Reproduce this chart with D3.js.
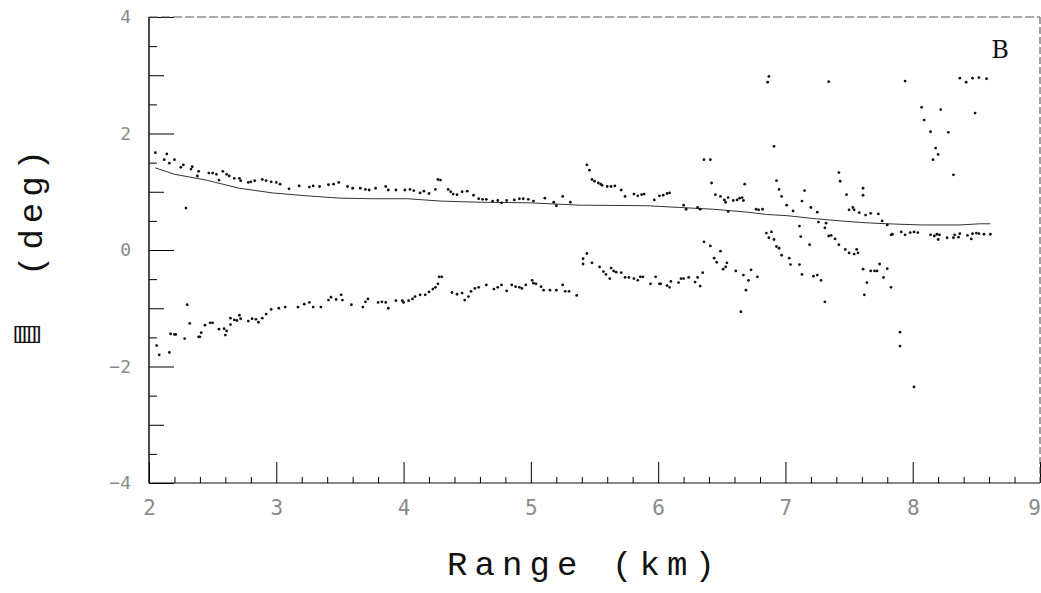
<!DOCTYPE html>
<html>
<head>
<meta charset="utf-8">
<script src="https://cdn.jsdelivr.net/npm/d3@7"></script>
<style>
body { margin: 0; background: #fff; }
.tick text { fill: #8a8a8a; font-family: "DejaVu Sans Mono", monospace; }
</style>
</head>
<body>
<script>

// Tick values
var xMajor = [2, 3, 4, 5, 6, 7, 8, 9];
var yMajor = [-4, -2, 0, 2, 4];

// Fitted curve (solid line)
var lineX = [2.05, 2.20, 2.45, 2.71, 2.97, 3.24, 3.50, 3.76, 4.03, 4.29, 4.60, 4.99, 5.38, 5.91, 6.17, 6.43, 6.70, 6.85, 7.01, 7.22, 7.43, 7.61, 7.80, 8.06, 8.37, 8.53, 8.61];
var lineY = [1.41, 1.30, 1.20, 1.06, 0.98, 0.93, 0.89, 0.88, 0.88, 0.84, 0.82, 0.81, 0.77, 0.76, 0.73, 0.70, 0.65, 0.61, 0.59, 0.54, 0.50, 0.47, 0.45, 0.43, 0.43, 0.45, 0.45];

// Measured points, by group
var bandUpper = [[2.05,1.67],[2.12,1.55],[2.14,1.65],[2.16,1.49],[2.20,1.55],[2.25,1.42],[2.27,1.46],[2.33,1.39],[2.34,1.43],[2.38,1.27],[2.39,1.35],[2.47,1.32],[2.50,1.32],[2.53,1.30],[2.55,1.20],[2.58,1.35],[2.61,1.30],[2.63,1.27],[2.67,1.23],[2.71,1.23],[2.72,1.19],[2.78,1.16],[2.80,1.17],[2.83,1.19],[2.89,1.21],[2.92,1.19],[2.96,1.17],[3.00,1.16],[3.03,1.13],[3.10,1.05],[3.18,1.10],[3.26,1.08],[3.29,1.10],[3.34,1.09],[3.41,1.12],[3.45,1.13],[3.49,1.16],[3.56,1.09],[3.60,1.06],[3.66,1.06],[3.70,1.04],[3.73,1.03],[3.78,1.06],[3.86,1.09],[3.88,1.03],[3.94,1.03],[4.01,1.03],[4.05,1.04],[4.08,1.02],[4.13,0.98],[4.16,1.01],[4.20,0.97],[4.25,1.04],[4.27,1.21],[4.29,1.20],[4.35,1.04],[4.37,1.00],[4.39,0.96],[4.42,0.95],[4.46,1.00],[4.50,1.01],[4.55,0.94],[4.59,0.88],[4.62,0.87],[4.65,0.87],[4.70,0.84],[4.74,0.85],[4.77,0.81],[4.81,0.85],[4.87,0.86],[4.91,0.88],[4.94,0.88],[4.98,0.87],[5.02,0.84],[5.11,0.89],[5.18,0.82],[5.20,0.76],[5.25,0.92],[5.31,0.82],[2.29,0.72]];

var bandLower = [[2.06,-1.64],[2.08,-1.80],[2.16,-1.76],[2.17,-1.44],[2.20,-1.45],[2.21,-1.45],[2.28,-1.52],[2.30,-0.94],[2.32,-1.26],[2.39,-1.49],[2.40,-1.49],[2.41,-1.42],[2.44,-1.29],[2.48,-1.25],[2.50,-1.25],[2.55,-1.36],[2.59,-1.35],[2.60,-1.46],[2.61,-1.39],[2.64,-1.17],[2.64,-1.28],[2.67,-1.20],[2.69,-1.21],[2.71,-1.12],[2.72,-1.18],[2.78,-1.22],[2.81,-1.18],[2.84,-1.19],[2.86,-1.24],[2.89,-1.17],[2.92,-1.10],[2.96,-1.02],[3.02,-1.00],[3.07,-0.98],[3.17,-0.98],[3.22,-0.93],[3.26,-0.90],[3.29,-0.98],[3.35,-0.98],[3.41,-0.86],[3.43,-0.81],[3.47,-0.85],[3.51,-0.77],[3.52,-0.86],[3.59,-0.94],[3.68,-0.98],[3.70,-0.89],[3.72,-0.84],[3.80,-0.90],[3.83,-0.89],[3.86,-0.90],[3.88,-1.00],[3.94,-0.87],[3.99,-0.87],[4.00,-0.90],[4.04,-0.87],[4.07,-0.84],[4.09,-0.80],[4.13,-0.77],[4.17,-0.77],[4.20,-0.72],[4.23,-0.67],[4.25,-0.64],[4.27,-0.58],[4.28,-0.46],[4.30,-0.46],[4.38,-0.73],[4.42,-0.76],[4.46,-0.74],[4.48,-0.86],[4.51,-0.80],[4.53,-0.71],[4.56,-0.66],[4.59,-0.64],[4.65,-0.60],[4.71,-0.67],[4.74,-0.64],[4.77,-0.60],[4.81,-0.70],[4.85,-0.60],[4.88,-0.63],[4.91,-0.64],[4.93,-0.66],[4.96,-0.60],[5.01,-0.52],[5.02,-0.57],[5.04,-0.58],[5.08,-0.63],[5.10,-0.69],[5.15,-0.69],[5.20,-0.69],[5.25,-0.60],[5.27,-0.71],[5.30,-0.71],[5.36,-0.78]];

var midUpper = [[5.44,1.46],[5.46,1.37],[5.48,1.21],[5.50,1.18],[5.53,1.15],[5.55,1.13],[5.56,1.11],[5.60,1.09],[5.63,1.09],[5.66,1.10],[5.71,1.03],[5.74,0.92],[5.81,0.96],[5.84,0.93],[5.87,0.95],[5.89,0.96],[5.97,0.86],[6.01,0.93],[6.04,0.94],[6.07,0.97],[6.09,0.98]];

var midLower = [[5.41,-0.15],[5.41,-0.24],[5.44,-0.06],[5.48,-0.22],[5.54,-0.29],[5.57,-0.37],[5.59,-0.42],[5.62,-0.49],[5.63,-0.31],[5.65,-0.36],[5.67,-0.38],[5.71,-0.39],[5.74,-0.47],[5.77,-0.47],[5.81,-0.49],[5.84,-0.52],[5.86,-0.46],[5.88,-0.46],[5.94,-0.58],[5.98,-0.46],[6.01,-0.58],[6.02,-0.58],[6.07,-0.61],[6.09,-0.64],[6.10,-0.54],[6.16,-0.56],[6.18,-0.49],[6.20,-0.49],[6.24,-0.47],[6.29,-0.55],[6.31,-0.47],[6.33,-0.62],[6.35,-0.39]];

var arcsUpper = [[6.20,0.77],[6.22,0.70],[6.31,0.73],[6.33,0.70],[6.36,1.55],[6.41,1.55],[6.42,1.15],[6.45,0.95],[6.49,0.92],[6.52,0.86],[6.53,0.82],[6.55,0.90],[6.59,0.85],[6.62,0.86],[6.64,0.89],[6.66,0.90],[6.67,0.85],[6.68,1.13],[6.77,0.70],[6.79,0.69],[6.82,0.70],[6.55,0.66],[6.86,2.88],[6.87,2.98],[6.91,1.78],[6.93,1.19],[6.95,1.04],[6.97,0.92],[7.01,0.77],[7.06,0.67],[7.13,0.84],[7.15,1.02],[7.20,0.73],[7.25,0.65],[7.26,0.48],[7.11,0.41],[7.12,0.23],[7.19,0.09],[7.34,2.89],[7.42,1.33],[7.43,1.18],[7.48,0.95],[7.50,0.69],[7.53,0.73],[7.54,0.69],[7.58,0.64],[7.61,1.06],[7.61,0.94],[7.63,0.60],[7.67,0.63],[7.73,0.62],[7.76,0.50],[7.80,0.43],[7.83,0.26]];

var arcsLower = [[6.36,0.14],[6.41,0.07],[6.44,-0.14],[6.46,-0.21],[6.49,-0.02],[6.51,-0.33],[6.53,-0.29],[6.54,-0.22],[6.61,-0.36],[6.67,-0.43],[6.71,-0.52],[6.73,-0.34],[6.78,-0.46],[6.69,-0.69],[6.65,-1.06],[6.85,0.29],[6.89,0.31],[6.87,0.21],[6.91,0.18],[6.93,0.06],[6.95,0.03],[6.97,-0.09],[7.03,-0.14],[7.04,-0.25],[7.11,-0.25],[7.13,-0.42],[7.22,-0.45],[7.25,-0.43],[7.28,-0.52],[7.31,-0.89],[7.31,0.38],[7.32,0.46],[7.34,0.24],[7.36,0.25],[7.39,0.19],[7.42,0.09],[7.47,0.01],[7.50,-0.05],[7.54,-0.07],[7.56,0.01],[7.57,-0.05],[7.61,-0.33],[7.64,-0.56],[7.62,-0.77],[7.67,-0.36],[7.70,-0.36],[7.72,-0.36],[7.74,-0.24],[7.77,-0.47],[7.80,-0.32],[7.83,-0.64],[7.90,-1.41],[7.90,-1.65],[8.01,-2.35]];

var tailBand = [[7.84,0.27],[7.91,0.31],[7.94,0.26],[7.98,0.30],[8.01,0.31],[8.04,0.30],[8.14,0.26],[8.17,0.24],[8.19,0.27],[8.20,0.18],[8.21,0.26],[8.27,0.21],[8.32,0.21],[8.33,0.26],[8.36,0.22],[8.37,0.28],[8.43,0.25],[8.46,0.19],[8.47,0.28],[8.50,0.29],[8.52,0.28],[8.56,0.27],[8.61,0.27]];

var tailUpper = [[7.94,2.90],[8.37,2.95],[8.42,2.88],[8.47,2.95],[8.52,2.96],[8.58,2.94],[8.07,2.45],[8.22,2.41],[8.49,2.35],[8.09,2.23],[8.14,2.03],[8.28,2.02],[8.18,1.75],[8.20,1.64],[8.16,1.55],[8.32,1.29]];

var allPoints = [].concat(bandUpper, bandLower, midUpper, midLower, arcsUpper, arcsLower, tailBand, tailUpper);

// Layout
var margin = {top: 17, left: 149},
    width = 891,
    height = 466;

var svg = d3.select("body").append("svg")
            .attr("width", 1041)
            .attr("height", 593);

var g = svg.append("g")
           .attr("transform", "translate(" + margin.left + "," + margin.top + ")");

var x = d3.scaleLinear().domain([2, 9]).range([0, width]);
var y = d3.scaleLinear().domain([-4, 4]).range([height, 0]);

// minor ticks
var xMinor = d3.range(2, 9.001, 0.2).filter(function (v) { return Math.abs(v - Math.round(v)) > 0.01; });
var yHalf = d3.range(-4, 4.001, 0.5).filter(function (v) { return Math.abs(v / 2 - Math.round(v / 2)) > 0.01; });

g.append("g")
 .attr("transform", "translate(0," + height + ")")
 .call(d3.axisBottom(x).tickValues(xMinor).tickSize(-6).tickSizeOuter(0).tickFormat(""))
 .call(function (s) { s.select(".domain").remove(); });

g.append("g")
 .attr("class", "x axis")
 .attr("transform", "translate(0," + height + ")")
 .call(d3.axisBottom(x).tickValues(xMajor).tickSize(-21).tickSizeOuter(0).tickPadding(17).tickFormat(d3.format("d")))
 .call(function (s) {
     s.select(".domain").remove();
     s.selectAll("text").attr("font-size", 21)
      .attr("dx", function (d) { return d === 9 ? -6 : 0; });
 });

g.append("g")
 .call(d3.axisLeft(y).tickValues(yHalf).tickSizeOuter(0).tickFormat("")
         .tickSize(0))
 .call(function (s) {
     s.select(".domain").remove();
     s.selectAll(".tick line").attr("x2", function (d) { return Number.isInteger(d) ? 15 : 8; });
 });

g.append("g")
 .attr("class", "y axis")
 .call(d3.axisLeft(y).tickValues(yMajor).tickSize(-25).tickSizeOuter(0).tickPadding(18).tickFormat(d3.format("d")))
 .call(function (s) {
     s.select(".domain").remove();
     s.selectAll("text").attr("font-size", 18);
 });

// frame
g.append("line").attr("x1", 0).attr("x2", 0).attr("y1", 0).attr("y2", height)
 .attr("stroke", "#111").attr("stroke-width", 1.5);
g.append("line").attr("x1", 0).attr("x2", width).attr("y1", height).attr("y2", height)
 .attr("stroke", "#111").attr("stroke-width", 1.2);
g.append("line").attr("x1", 0).attr("x2", width).attr("y1", 0).attr("y2", 0)
 .attr("stroke", "#555").attr("stroke-width", 1).attr("stroke-dasharray", "9,3");
g.append("line").attr("x1", width).attr("x2", width).attr("y1", 0).attr("y2", height)
 .attr("stroke", "#444").attr("stroke-width", 1).attr("stroke-dasharray", "7,3");

// fitted line
var fit = d3.line()
            .x(function (d, i) { return x(lineX[i]); })
            .y(function (d, i) { return y(lineY[i]); });

g.append("path")
 .datum(lineX)
 .attr("d", fit)
 .attr("fill", "none")
 .attr("stroke", "#333")
 .attr("stroke-width", 1);

// points
g.selectAll("circle.pt")
 .data(allPoints)
 .enter().append("circle")
 .attr("class", "pt")
 .attr("cx", function (d) { return x(d[0]); })
 .attr("cy", function (d) { return y(d[1]); })
 .attr("r", 1.4)
 .attr("fill", "#111");

// panel letter
svg.append("text")
   .attr("x", 1000).attr("y", 58)
   .attr("text-anchor", "middle")
   .attr("font-family", "DejaVu Serif, serif")
   .attr("font-size", 24)
   .attr("fill", "#111")
   .text("B");

// axis titles
svg.append("text")
   .attr("x", 447).attr("y", 575)
   .attr("font-family", "Liberation Mono, monospace")
   .attr("font-size", 34)
   .attr("textLength", 268)
   .attr("lengthAdjust", "spacing")
   .attr("fill", "#111")
   .text("Range (km)");

svg.append("text")
   .attr("transform", "translate(42,276) rotate(-90)")
   .attr("font-family", "Liberation Mono, monospace")
   .attr("font-size", 34)
   .attr("textLength", 126)
   .attr("lengthAdjust", "spacing")
   .attr("fill", "#111")
   .text("(deg)");

svg.append("text")
   .attr("transform", "translate(27,340) scale(1.5,1)")
   .attr("text-anchor", "middle")
   .attr("font-family", "DejaVu Sans, sans-serif")
   .attr("font-size", 22)
   .attr("fill", "#111")
   .text("▥");

</script>
</body>
</html>
